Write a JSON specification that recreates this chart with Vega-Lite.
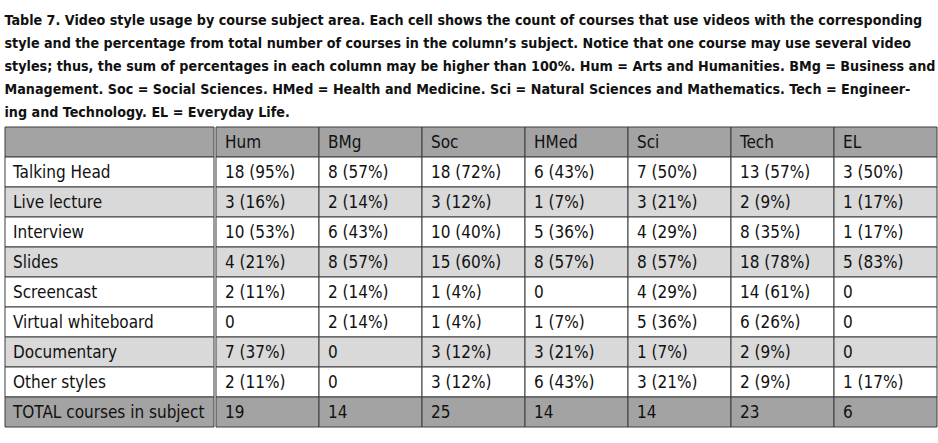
{
  "$schema": "https://vega.github.io/schema/vega-lite/v6.json",
  "background": "white",
  "padding": {"left": 4, "top": 13, "right": 4, "bottom": 16},
  "title": {
    "text": [
      "Table 7. Video style usage by course subject area. Each cell shows the count of courses that use videos with the corresponding",
      "style and the percentage from total number of courses in the column’s subject. Notice that one course may use several video",
      "styles; thus, the sum of percentages in each column may be higher than 100%. Hum = Arts and Humanities. BMg = Business and",
      "Management. Soc = Social Sciences. HMed = Health and Medicine. Sci = Natural Sciences and Mathematics. Tech = Engineer-",
      "ing and Technology. EL = Everyday Life."
    ],
    "anchor": "start",
    "font": "DejaVu Sans Condensed, sans-serif",
    "fontSize": 14.2,
    "fontWeight": "bold",
    "lineHeight": 23.2,
    "color": "#111111",
    "offset": 6
  },
  "config": {
    "view": {"stroke": null},
    "concat": {"spacing": 0},
    "text": {"font": "DejaVu Sans Condensed, sans-serif", "fontSize": 17, "color": "#111111"}
  },
  "datasets": {
    "rows": [
      {"row": "Header", "label": ""},
      {"row": "Talking Head", "label": "Talking Head"},
      {"row": "Live lecture", "label": "Live lecture"},
      {"row": "Interview", "label": "Interview"},
      {"row": "Slides", "label": "Slides"},
      {"row": "Screencast", "label": "Screencast"},
      {"row": "Virtual whiteboard", "label": "Virtual whiteboard"},
      {"row": "Documentary", "label": "Documentary"},
      {"row": "Other styles", "label": "Other styles"},
      {"row": "TOTAL", "label": "TOTAL courses in subject"}
    ],
    "cells": [
      {"row": "Header", "subject": "Hum", "text": "Hum"},
      {"row": "Header", "subject": "BMg", "text": "BMg"},
      {"row": "Header", "subject": "Soc", "text": "Soc"},
      {"row": "Header", "subject": "HMed", "text": "HMed"},
      {"row": "Header", "subject": "Sci", "text": "Sci"},
      {"row": "Header", "subject": "Tech", "text": "Tech"},
      {"row": "Header", "subject": "EL", "text": "EL"},
      {"row": "Talking Head", "subject": "Hum", "count": 18, "pct": 95, "text": "18 (95%)"},
      {"row": "Talking Head", "subject": "BMg", "count": 8, "pct": 57, "text": "8 (57%)"},
      {"row": "Talking Head", "subject": "Soc", "count": 18, "pct": 72, "text": "18 (72%)"},
      {"row": "Talking Head", "subject": "HMed", "count": 6, "pct": 43, "text": "6 (43%)"},
      {"row": "Talking Head", "subject": "Sci", "count": 7, "pct": 50, "text": "7 (50%)"},
      {"row": "Talking Head", "subject": "Tech", "count": 13, "pct": 57, "text": "13 (57%)"},
      {"row": "Talking Head", "subject": "EL", "count": 3, "pct": 50, "text": "3 (50%)"},
      {"row": "Live lecture", "subject": "Hum", "count": 3, "pct": 16, "text": "3 (16%)"},
      {"row": "Live lecture", "subject": "BMg", "count": 2, "pct": 14, "text": "2 (14%)"},
      {"row": "Live lecture", "subject": "Soc", "count": 3, "pct": 12, "text": "3 (12%)"},
      {"row": "Live lecture", "subject": "HMed", "count": 1, "pct": 7, "text": "1 (7%)"},
      {"row": "Live lecture", "subject": "Sci", "count": 3, "pct": 21, "text": "3 (21%)"},
      {"row": "Live lecture", "subject": "Tech", "count": 2, "pct": 9, "text": "2 (9%)"},
      {"row": "Live lecture", "subject": "EL", "count": 1, "pct": 17, "text": "1 (17%)"},
      {"row": "Interview", "subject": "Hum", "count": 10, "pct": 53, "text": "10 (53%)"},
      {"row": "Interview", "subject": "BMg", "count": 6, "pct": 43, "text": "6 (43%)"},
      {"row": "Interview", "subject": "Soc", "count": 10, "pct": 40, "text": "10 (40%)"},
      {"row": "Interview", "subject": "HMed", "count": 5, "pct": 36, "text": "5 (36%)"},
      {"row": "Interview", "subject": "Sci", "count": 4, "pct": 29, "text": "4 (29%)"},
      {"row": "Interview", "subject": "Tech", "count": 8, "pct": 35, "text": "8 (35%)"},
      {"row": "Interview", "subject": "EL", "count": 1, "pct": 17, "text": "1 (17%)"},
      {"row": "Slides", "subject": "Hum", "count": 4, "pct": 21, "text": "4 (21%)"},
      {"row": "Slides", "subject": "BMg", "count": 8, "pct": 57, "text": "8 (57%)"},
      {"row": "Slides", "subject": "Soc", "count": 15, "pct": 60, "text": "15 (60%)"},
      {"row": "Slides", "subject": "HMed", "count": 8, "pct": 57, "text": "8 (57%)"},
      {"row": "Slides", "subject": "Sci", "count": 8, "pct": 57, "text": "8 (57%)"},
      {"row": "Slides", "subject": "Tech", "count": 18, "pct": 78, "text": "18 (78%)"},
      {"row": "Slides", "subject": "EL", "count": 5, "pct": 83, "text": "5 (83%)"},
      {"row": "Screencast", "subject": "Hum", "count": 2, "pct": 11, "text": "2 (11%)"},
      {"row": "Screencast", "subject": "BMg", "count": 2, "pct": 14, "text": "2 (14%)"},
      {"row": "Screencast", "subject": "Soc", "count": 1, "pct": 4, "text": "1 (4%)"},
      {"row": "Screencast", "subject": "HMed", "count": 0, "text": "0"},
      {"row": "Screencast", "subject": "Sci", "count": 4, "pct": 29, "text": "4 (29%)"},
      {"row": "Screencast", "subject": "Tech", "count": 14, "pct": 61, "text": "14 (61%)"},
      {"row": "Screencast", "subject": "EL", "count": 0, "text": "0"},
      {"row": "Virtual whiteboard", "subject": "Hum", "count": 0, "text": "0"},
      {"row": "Virtual whiteboard", "subject": "BMg", "count": 2, "pct": 14, "text": "2 (14%)"},
      {"row": "Virtual whiteboard", "subject": "Soc", "count": 1, "pct": 4, "text": "1 (4%)"},
      {"row": "Virtual whiteboard", "subject": "HMed", "count": 1, "pct": 7, "text": "1 (7%)"},
      {"row": "Virtual whiteboard", "subject": "Sci", "count": 5, "pct": 36, "text": "5 (36%)"},
      {"row": "Virtual whiteboard", "subject": "Tech", "count": 6, "pct": 26, "text": "6 (26%)"},
      {"row": "Virtual whiteboard", "subject": "EL", "count": 0, "text": "0"},
      {"row": "Documentary", "subject": "Hum", "count": 7, "pct": 37, "text": "7 (37%)"},
      {"row": "Documentary", "subject": "BMg", "count": 0, "text": "0"},
      {"row": "Documentary", "subject": "Soc", "count": 3, "pct": 12, "text": "3 (12%)"},
      {"row": "Documentary", "subject": "HMed", "count": 3, "pct": 21, "text": "3 (21%)"},
      {"row": "Documentary", "subject": "Sci", "count": 1, "pct": 7, "text": "1 (7%)"},
      {"row": "Documentary", "subject": "Tech", "count": 2, "pct": 9, "text": "2 (9%)"},
      {"row": "Documentary", "subject": "EL", "count": 0, "text": "0"},
      {"row": "Other styles", "subject": "Hum", "count": 2, "pct": 11, "text": "2 (11%)"},
      {"row": "Other styles", "subject": "BMg", "count": 0, "text": "0"},
      {"row": "Other styles", "subject": "Soc", "count": 3, "pct": 12, "text": "3 (12%)"},
      {"row": "Other styles", "subject": "HMed", "count": 6, "pct": 43, "text": "6 (43%)"},
      {"row": "Other styles", "subject": "Sci", "count": 3, "pct": 21, "text": "3 (21%)"},
      {"row": "Other styles", "subject": "Tech", "count": 2, "pct": 9, "text": "2 (9%)"},
      {"row": "Other styles", "subject": "EL", "count": 1, "pct": 17, "text": "1 (17%)"},
      {"row": "TOTAL", "subject": "Hum", "count": 19, "text": "19"},
      {"row": "TOTAL", "subject": "BMg", "count": 14, "text": "14"},
      {"row": "TOTAL", "subject": "Soc", "count": 25, "text": "25"},
      {"row": "TOTAL", "subject": "HMed", "count": 14, "text": "14"},
      {"row": "TOTAL", "subject": "Sci", "count": 14, "text": "14"},
      {"row": "TOTAL", "subject": "Tech", "count": 23, "text": "23"},
      {"row": "TOTAL", "subject": "EL", "count": 6, "text": "6"}
    ]
  },
  "hconcat": [
    {
      "width": 209,
      "height": 300,
      "data": {"name": "rows"},
      "encoding": {
        "y": {
          "field": "row", "type": "nominal", "axis": null,
          "scale": {"domain": ["Header", "Talking Head", "Live lecture", "Interview", "Slides", "Screencast", "Virtual whiteboard", "Documentary", "Other styles", "TOTAL"], "paddingInner": 0, "paddingOuter": 0}
        }
      },
      "layer": [
        {
          "mark": {"type": "rect", "stroke": "#3c3c3c", "strokeWidth": 1},
          "encoding": {
            "fill": {
              "field": "row", "type": "nominal", "legend": null,
              "scale": {
                "domain": ["Header", "Talking Head", "Live lecture", "Interview", "Slides", "Screencast", "Virtual whiteboard", "Documentary", "Other styles", "TOTAL"],
                "range": ["#a3a3a3", "#ffffff", "#d9d9d9", "#ffffff", "#d9d9d9", "#ffffff", "#ffffff", "#d9d9d9", "#ffffff", "#a3a3a3"]
              }
            }
          }
        },
        {
          "mark": {"type": "text", "align": "left", "baseline": "middle", "dx": 8, "dy": 1},
          "encoding": {
            "x": {"value": 0},
            "text": {"field": "label", "type": "nominal"}
          }
        }
      ]
    },
    {
      "width": 721,
      "height": 300,
      "data": {"name": "cells"},
      "encoding": {
        "y": {
          "field": "row", "type": "nominal", "axis": null,
          "scale": {"domain": ["Header", "Talking Head", "Live lecture", "Interview", "Slides", "Screencast", "Virtual whiteboard", "Documentary", "Other styles", "TOTAL"], "paddingInner": 0, "paddingOuter": 0}
        }
      },
      "layer": [
        {
          "mark": {"type": "rect", "stroke": "#3c3c3c", "strokeWidth": 1},
          "encoding": {
            "x": {
              "field": "subject", "type": "nominal", "axis": null,
              "scale": {"domain": ["Hum", "BMg", "Soc", "HMed", "Sci", "Tech", "EL"], "paddingInner": 0, "paddingOuter": 0}
            },
            "fill": {
              "field": "row", "type": "nominal", "legend": null,
              "scale": {
                "domain": ["Header", "Talking Head", "Live lecture", "Interview", "Slides", "Screencast", "Virtual whiteboard", "Documentary", "Other styles", "TOTAL"],
                "range": ["#a3a3a3", "#ffffff", "#d9d9d9", "#ffffff", "#d9d9d9", "#ffffff", "#ffffff", "#d9d9d9", "#ffffff", "#a3a3a3"]
              }
            }
          }
        },
        {
          "mark": {"type": "text", "align": "left", "baseline": "middle", "dx": 9, "dy": 1},
          "encoding": {
            "x": {
              "field": "subject", "type": "nominal", "axis": null, "bandPosition": 0,
              "scale": {"domain": ["Hum", "BMg", "Soc", "HMed", "Sci", "Tech", "EL"], "paddingInner": 0, "paddingOuter": 0}
            },
            "text": {"field": "text", "type": "nominal"}
          }
        }
      ]
    }
  ]
}
